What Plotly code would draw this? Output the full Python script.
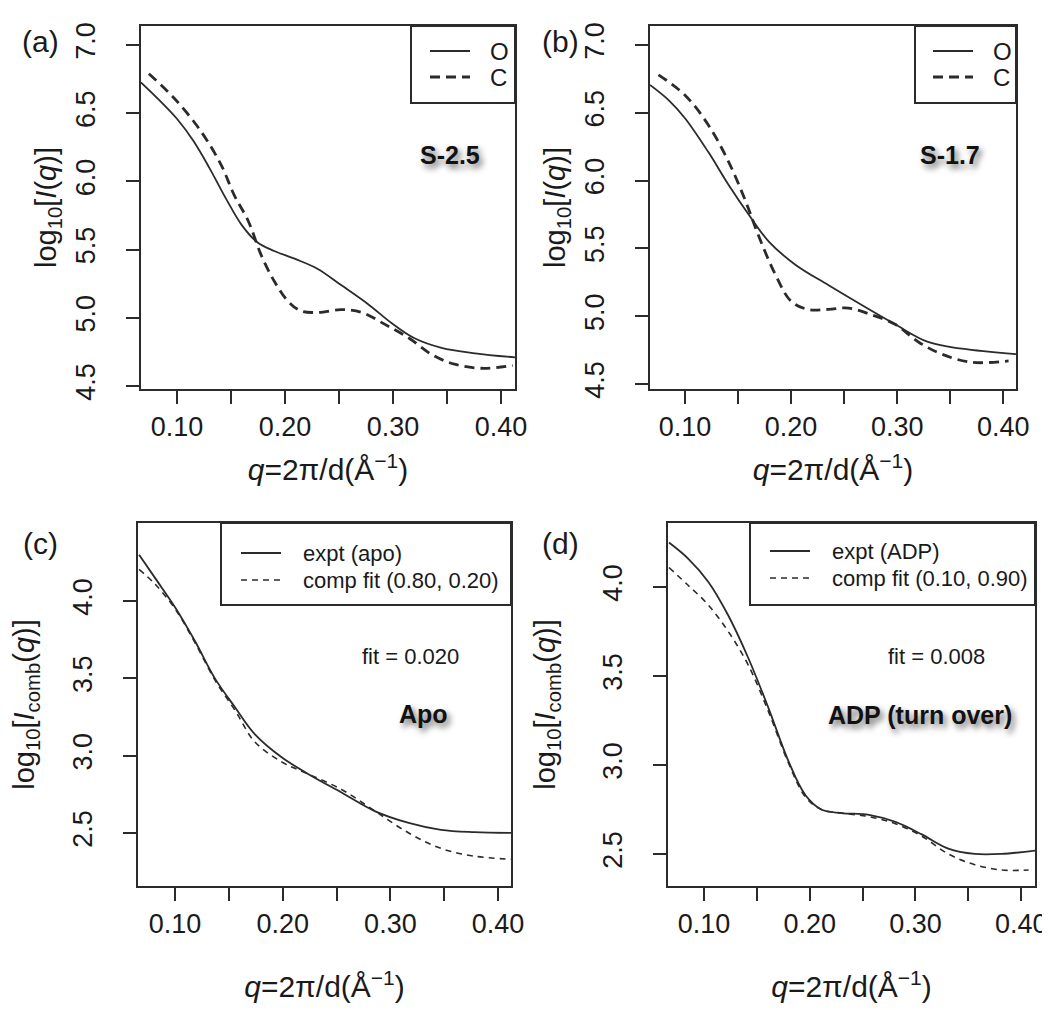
import plotly.graph_objects as go

# ---------------- data ----------------
# (a) S-2.5
qa_o = [0.0666, 0.085, 0.100, 0.115, 0.130, 0.145, 0.160, 0.175, 0.190, 0.210, 0.230, 0.252, 0.277, 0.299, 0.320, 0.345, 0.376, 0.413]
Ia_o = [6.727, 6.586, 6.46, 6.30, 6.10, 5.88, 5.68, 5.55, 5.49, 5.43, 5.36, 5.24, 5.10, 4.96, 4.85, 4.78, 4.74, 4.71]
qa_c = [0.074, 0.0975, 0.122, 0.141, 0.153, 0.166, 0.178, 0.190, 0.203, 0.215, 0.231, 0.252, 0.271, 0.293, 0.315, 0.336, 0.357, 0.382, 0.411]
Ia_c = [6.79, 6.61, 6.37, 6.12, 5.90, 5.71, 5.46, 5.27, 5.12, 5.05, 5.04, 5.06, 5.04, 4.95, 4.85, 4.73, 4.66, 4.63, 4.65]

# (b) S-1.7
qb_o = [0.067, 0.085, 0.100, 0.122, 0.141, 0.160, 0.179, 0.204, 0.235, 0.267, 0.298, 0.329, 0.361, 0.412]
Ib_o = [6.705, 6.59, 6.46, 6.21, 5.97, 5.75, 5.55, 5.38, 5.23, 5.08, 4.94, 4.81, 4.76, 4.72]
qb_c = [0.075, 0.100, 0.122, 0.141, 0.157, 0.169, 0.185, 0.200, 0.216, 0.235, 0.254, 0.276, 0.298, 0.320, 0.342, 0.370, 0.405]
Ib_c = [6.78, 6.63, 6.41, 6.14, 5.85, 5.60, 5.31, 5.11, 5.05, 5.05, 5.06, 5.01, 4.94, 4.81, 4.72, 4.66, 4.67]

# (c) Apo
qc = [0.0666, 0.0814, 0.100, 0.1186, 0.137, 0.156, 0.174, 0.199, 0.224, 0.255, 0.286, 0.317, 0.347, 0.378, 0.412]
Ic_expt = [4.30, 4.15, 3.96, 3.74, 3.50, 3.31, 3.14, 2.99, 2.88, 2.76, 2.64, 2.565, 2.52, 2.505, 2.50]
Ic_fit = [4.205, 4.11, 3.95, 3.73, 3.49, 3.29, 3.09, 2.96, 2.88, 2.78, 2.64, 2.50, 2.40, 2.35, 2.33]

# (d) ADP (turn over)
qd_expt = [0.0669, 0.085, 0.104, 0.123, 0.142, 0.161, 0.180, 0.196, 0.211, 0.230, 0.256, 0.281, 0.306, 0.331, 0.356, 0.381, 0.414]
Id_expt = [4.25, 4.16, 4.03, 3.84, 3.60, 3.32, 3.02, 2.83, 2.75, 2.73, 2.72, 2.68, 2.61, 2.53, 2.50, 2.50, 2.52]
qd_fit = [0.0669, 0.085, 0.104, 0.123, 0.142, 0.161, 0.180, 0.196, 0.211, 0.230, 0.256, 0.281, 0.306, 0.331, 0.356, 0.381, 0.407]
Id_fit = [4.11, 4.01, 3.90, 3.75, 3.56, 3.30, 3.01, 2.82, 2.75, 2.73, 2.71, 2.67, 2.60, 2.50, 2.44, 2.41, 2.41]

names_ab = ["O", "C"]
names_c = ["expt (apo)", "comp fit (0.80, 0.20)"]
names_d = ["expt (ADP)", "comp fit (0.10, 0.90)"]

x_tickvals = [0.10, 0.15, 0.20, 0.25, 0.30, 0.35, 0.40]
x_ticktext = ["0.10", "", "0.20", "", "0.30", "", "0.40"]
y_ticks_ab = [4.5, 5.0, 5.5, 6.0, 6.5, 7.0]
y_ticks_cd = [2.5, 3.0, 3.5, 4.0]

# ---------------- layout helpers ----------------
W, H = 1050, 1010
FONT = "Liberation Sans, Arial, Helvetica, sans-serif"
INK = "#2b2b2b"
TXT = "#1a1a1a"

def dx(a, b):
    return [a / W, b / W]

def dy(top, bottom):
    return [1 - bottom / H, 1 - top / H]

def px(x):
    return x / W

def py(y):
    return 1 - y / H

fig = go.Figure()

DASH_AB = "10px,6px"
DASH_CD = "6px,5px"

def line(q, v, xa, ya, name, dash, width):
    fig.add_trace(go.Scatter(
        x=q, y=v, mode="lines", name=name, xaxis=xa, yaxis=ya, showlegend=False,
        line=dict(color=INK, width=width, dash=dash, shape="spline", smoothing=1.0)))

line(qa_o, Ia_o, "x", "y", names_ab[0], "solid", 1.8)
line(qa_c, Ia_c, "x", "y", names_ab[1], DASH_AB, 2.8)
line(qb_o, Ib_o, "x2", "y2", names_ab[0], "solid", 1.8)
line(qb_c, Ib_c, "x2", "y2", names_ab[1], DASH_AB, 2.8)
line(qc, Ic_expt, "x3", "y3", names_c[0], "solid", 1.8)
line(qc, Ic_fit, "x3", "y3", names_c[1], DASH_CD, 1.6)
line(qd_expt, Id_expt, "x4", "y4", names_d[0], "solid", 1.8)
line(qd_fit, Id_fit, "x4", "y4", names_d[1], DASH_CD, 1.6)

panels = [
    # xaxis, yaxis, xdom(px), ydom(px), xrange, yrange, yticks, kind
    ("xaxis", "yaxis", (133, 507), (18, 381), [0.0667, 0.413], [4.478, 7.14], y_ticks_ab, "ab"),
    ("xaxis2", "yaxis2", (642, 1008), (18, 381), [0.067, 0.412], [4.463, 7.14], y_ticks_ab, "ab"),
    ("xaxis3", "yaxis3", (130, 503), (515, 878), [0.0656, 0.412], [2.157, 4.505], y_ticks_cd, "cd"),
    ("xaxis4", "yaxis4", (660, 1027), (515, 878), [0.066, 0.413], [2.32, 4.36], y_ticks_cd, "cd"),
]

axis_common = dict(showline=True, linecolor=INK, linewidth=2, mirror=True,
                   ticks="outside", ticklen=13, tickwidth=2, tickcolor=INK,
                   showgrid=False, zeroline=False, automargin=False,
                   tickfont=dict(family=FONT, size=27, color=TXT))

ytitle_ab = "log<sub>10</sub>[<i>I</i>(<i>q</i>)]"
ytitle_cd = "log<sub>10</sub>[<i>I</i><sub>comb</sub>(<i>q</i>)]"
xtitle = "<i>q</i>=2π/d(Å<sup>−1</sup>)"

for i, (xk, yk, xd, yd, xr, yr, yt, kind) in enumerate(panels):
    anchor_x = "y" if i == 0 else f"y{i+1}"
    anchor_y = "x" if i == 0 else f"x{i+1}"
    fig.layout[xk] = dict(domain=dx(*xd), range=xr, anchor=anchor_x,
                          tickvals=x_tickvals, ticktext=x_ticktext,
                          title=dict(text=xtitle, font=dict(family=FONT, size=30, color=TXT),
                                     standoff=18 if kind == "ab" else 38),
                          **axis_common)
    fig.layout[yk] = dict(domain=dy(*yd), range=yr, anchor=anchor_y,
                          tickvals=yt, ticktext=[f"{v:.1f}" for v in yt], tickangle=-90,
                          ticklabelstandoff=20,
                          title=dict(text=ytitle_ab if kind == "ab" else ytitle_cd,
                                     font=dict(family=FONT, size=29, color=TXT),
                                     standoff=6 if kind == "ab" else 34),
                          **axis_common)

# ---------------- legends (box, line samples, labels) ----------------
legends = [
    # box (x0, x1, y0, y1), sample x0, x1, text x, row ys, names, dash, dash width, font size
    ((403, 507, 18, 95), 422, 462, 480, (43, 69), names_ab, DASH_AB, 2.8, 24),
    ((907, 1008, 18, 95), 925, 965, 983, (43, 69), names_ab, DASH_AB, 2.8, 24),
    ((213, 503, 515, 597), 233, 273, 293, (545, 572), names_c, DASH_CD, 1.6, 22),
    ((742, 1027, 515, 597), 762, 802, 822, (543, 570), names_d, DASH_CD, 1.6, 22),
]
ann = []
for (bx0, bx1, by0, by1), sx0, sx1, tx, rows, nms, dash, dw, fs in legends:
    fig.add_shape(type="rect", xref="paper", yref="paper",
                  x0=px(bx0), x1=px(bx1), y0=py(by1), y1=py(by0),
                  line=dict(color=INK, width=2), fillcolor="rgba(0,0,0,0)", layer="above")
    for ry, nm, dsh, w in zip(rows, nms, ["solid", dash], [1.8, dw]):
        fig.add_shape(type="line", xref="paper", yref="paper",
                      x0=px(sx0), x1=px(sx1), y0=py(ry), y1=py(ry),
                      line=dict(color=INK, width=w, dash=dsh))
        ann.append(dict(text=nm, x=px(tx), y=py(ry), xref="paper", yref="paper",
                        xanchor="left", yanchor="middle", showarrow=False,
                        font=dict(family=FONT, size=fs, color=TXT)))

for txt, x, y in [("(a)", 32, 33), ("(b)", 552, 33), ("(c)", 32, 535), ("(d)", 552, 535)]:
    ann.append(dict(text=txt, x=px(x), y=py(y), xref="paper", yref="paper",
                    xanchor="center", yanchor="middle",
                    showarrow=False, font=dict(family=FONT, size=30, color=TXT)))
shadow = "3px 4px 6px #666"
for txt, x, y in [("S-2.5", 442, 147), ("S-1.7", 942, 147), ("Apo", 415, 706), ("ADP (turn over)", 912, 707)]:
    ann.append(dict(text=f"<b>{txt}</b>", x=px(x), y=py(y), xref="paper", yref="paper",
                    xanchor="center", yanchor="middle",
                    showarrow=False, font=dict(family=FONT, size=25, color="#111", shadow=shadow)))
for txt, x, y in [("fit = 0.020", 402, 648), ("fit = 0.008", 928, 648)]:
    ann.append(dict(text=txt, x=px(x), y=py(y), xref="paper", yref="paper",
                    xanchor="center", yanchor="middle",
                    showarrow=False, font=dict(family=FONT, size=22, color=TXT)))

fig.update_layout(width=W, height=H, margin=dict(l=0, r=0, t=0, b=0),
                  paper_bgcolor="white", plot_bgcolor="white",
                  annotations=ann, showlegend=False)

fig.write_html("out.html")
